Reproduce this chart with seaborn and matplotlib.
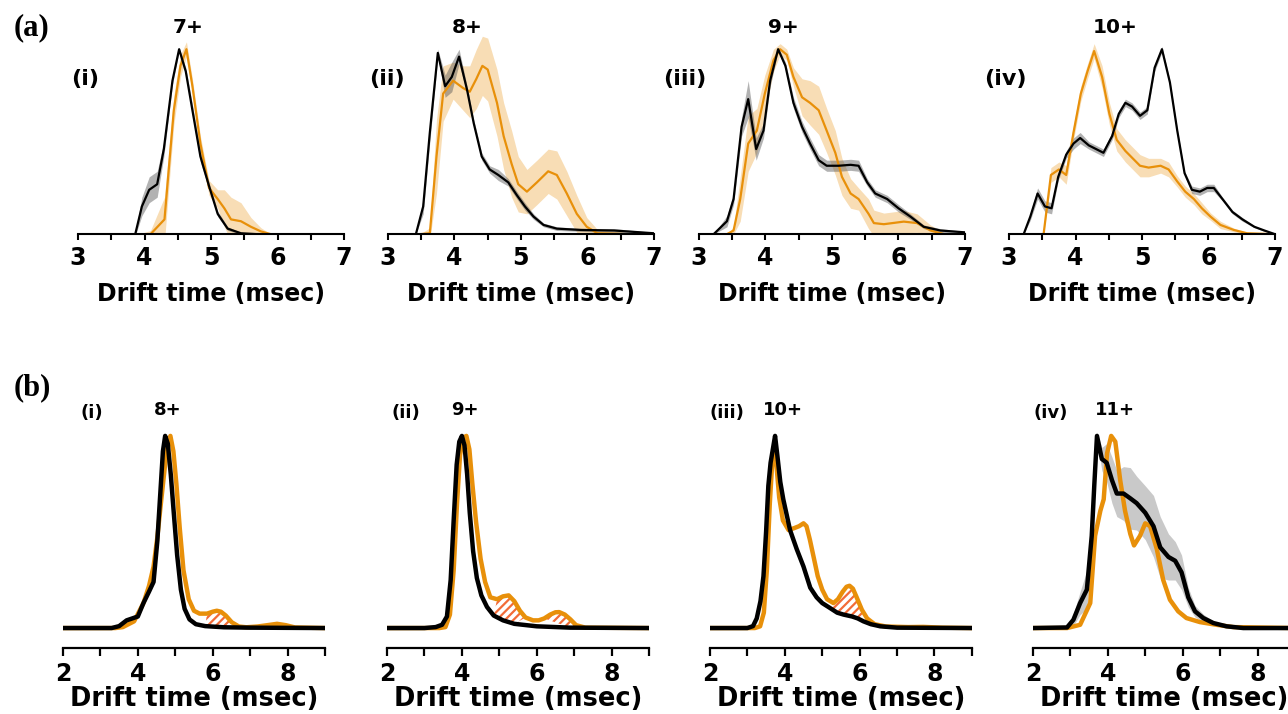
import matplotlib
matplotlib.use("Agg")
import matplotlib.pyplot as plt
import numpy as np
import seaborn as sns

# ---- (a) top row: mean traces with spread, drift time 3-7 msec ----
A1_BLK_X = [3.86, 3.96, 4.07, 4.19, 4.29, 4.42, 4.52, 4.62, 4.72, 4.84, 4.97, 5.1, 5.25, 5.45, 5.7]
A1_BLK_Y = [0, 0.15, 0.24, 0.27, 0.46, 0.83, 1.0, 0.88, 0.67, 0.42, 0.26, 0.11, 0.03, 0.005, 0]
A1_BLK_SD = [0.01, 0.05, 0.07, 0.07, 0.04, 0.02, 0.01, 0.02, 0.03, 0.03, 0.02, 0.015, 0.01, 0.005, 0]
A1_ORG_X = [3.9, 4.09, 4.3, 4.44, 4.54, 4.63, 4.72, 4.84, 4.97, 5.1, 5.2, 5.3, 5.45, 5.6, 5.75, 5.9]
A1_ORG_Y = [0, 0, 0.08, 0.67, 0.91, 1.0, 0.8, 0.49, 0.25, 0.19, 0.14, 0.08, 0.07, 0.04, 0.015, 0]
A1_ORG_SD = [0, 0.02, 0.12, 0.08, 0.06, 0.04, 0.04, 0.04, 0.04, 0.05, 0.1, 0.12, 0.1, 0.05, 0.02, 0]

A2_BLK_X = [3.42, 3.53, 3.63, 3.75, 3.86, 3.96, 4.07, 4.19, 4.29, 4.41, 4.53, 4.66, 4.81, 4.94,
            5.06, 5.19, 5.34, 5.54, 5.9, 6.4, 7.0]
A2_BLK_Y = [0, 0.15, 0.55, 0.98, 0.80, 0.85, 0.96, 0.78, 0.60, 0.42, 0.35, 0.32, 0.28, 0.21,
            0.15, 0.095, 0.05, 0.03, 0.023, 0.02, 0.005]
A2_BLK_SD = [0, 0.04, 0.05, 0.02, 0.06, 0.08, 0.04, 0.02, 0.02, 0.02, 0.02, 0.03, 0.02, 0.02,
             0.02, 0.015, 0.01, 0.01, 0.008, 0.01, 0.005]
A2_ORG_X = [3.48, 3.63, 3.73, 3.83, 3.98, 4.13, 4.23, 4.33, 4.42, 4.5, 4.64, 4.74, 4.86, 4.96,
            5.09, 5.24, 5.41, 5.54, 5.69, 5.84, 5.99, 6.15, 6.65, 7.0]
A2_ORG_Y = [0, 0.005, 0.42, 0.76, 0.83, 0.79, 0.77, 0.84, 0.91, 0.89, 0.71, 0.53, 0.38, 0.27,
            0.23, 0.28, 0.34, 0.32, 0.22, 0.11, 0.04, 0.005, 0, 0]
A2_ORG_SD = [0, 0.03, 0.2, 0.15, 0.1, 0.12, 0.14, 0.16, 0.16, 0.17, 0.18, 0.18, 0.18, 0.15,
             0.12, 0.12, 0.12, 0.13, 0.12, 0.1, 0.05, 0.02, 0.005, 0]

A3_BLK_X = [3.22, 3.42, 3.52, 3.64, 3.74, 3.86, 3.97, 4.07, 4.19, 4.3, 4.42, 4.55, 4.67, 4.8,
            4.92, 5.1, 5.28, 5.4, 5.53, 5.65, 5.83, 6.0, 6.18, 6.38, 6.63, 7.0]
A3_BLK_Y = [0, 0.07, 0.19, 0.58, 0.73, 0.46, 0.56, 0.83, 1.0, 0.91, 0.71, 0.58, 0.49, 0.40,
            0.37, 0.37, 0.375, 0.37, 0.28, 0.22, 0.19, 0.14, 0.095, 0.04, 0.02, 0.01]
A3_BLK_SD = [0, 0.03, 0.03, 0.05, 0.1, 0.06, 0.04, 0.03, 0.01, 0.02, 0.03, 0.03, 0.03, 0.03,
             0.03, 0.03, 0.03, 0.03, 0.02, 0.02, 0.02, 0.02, 0.015, 0.01, 0.01, 0.005]
A3_ORG_X = [3.42, 3.52, 3.62, 3.74, 3.87, 3.99, 4.12, 4.22, 4.32, 4.42, 4.55, 4.67, 4.8, 4.92,
            5.05, 5.15, 5.28, 5.4, 5.55, 5.63, 5.78, 6.08, 6.28, 6.48, 6.68, 7.0]
A3_ORG_Y = [0, 0.02, 0.19, 0.49, 0.56, 0.76, 0.94, 1.0, 0.97, 0.85, 0.74, 0.71, 0.67, 0.56,
            0.44, 0.31, 0.22, 0.19, 0.11, 0.06, 0.054, 0.068, 0.06, 0.02, 0, 0]
A3_ORG_SD = [0, 0.02, 0.12, 0.15, 0.12, 0.1, 0.06, 0.03, 0.03, 0.05, 0.1, 0.12, 0.13, 0.12,
             0.12, 0.1, 0.08, 0.06, 0.08, 0.07, 0.06, 0.06, 0.05, 0.03, 0.01, 0]

A4_BLK_X = [3.22, 3.32, 3.43, 3.54, 3.64, 3.74, 3.86, 3.97, 4.07, 4.2, 4.31, 4.42, 4.55, 4.65,
            4.75, 4.85, 4.97, 5.08, 5.19, 5.3, 5.42, 5.53, 5.64, 5.75, 5.87, 5.98, 6.08, 6.21,
            6.36, 6.51, 6.69, 6.84, 7.0]
A4_BLK_Y = [0, 0.095, 0.22, 0.15, 0.14, 0.31, 0.43, 0.49, 0.52, 0.48, 0.46, 0.44, 0.53, 0.65,
            0.71, 0.69, 0.64, 0.67, 0.9, 1.0, 0.82, 0.56, 0.33, 0.24, 0.23, 0.25, 0.25, 0.19,
            0.12, 0.08, 0.04, 0.02, 0]
A4_BLK_SD = [0, 0.02, 0.03, 0.03, 0.03, 0.02, 0.02, 0.03, 0.03, 0.02, 0.02, 0.02, 0.02, 0.02,
             0.02, 0.02, 0.02, 0.02, 0.02, 0.015, 0.01, 0.01, 0.01, 0.02, 0.02, 0.02, 0.02, 0.01,
             0.01, 0.01, 0.005, 0.005, 0]
A4_ORG_X = [3.52, 3.63, 3.75, 3.86, 3.97, 4.08, 4.18, 4.28, 4.4, 4.51, 4.62, 4.75, 4.86, 4.97,
            5.1, 5.28, 5.4, 5.53, 5.65, 5.78, 5.9, 6.03, 6.18, 6.38, 6.58, 7.0]
A4_ORG_Y = [0, 0.32, 0.35, 0.32, 0.55, 0.76, 0.88, 0.99, 0.85, 0.65, 0.51, 0.45, 0.41, 0.37,
            0.36, 0.37, 0.35, 0.285, 0.23, 0.19, 0.14, 0.095, 0.05, 0.023, 0.005, 0]
A4_ORG_SD = [0, 0.04, 0.04, 0.05, 0.04, 0.04, 0.04, 0.04, 0.06, 0.06, 0.06, 0.06, 0.06, 0.06,
             0.05, 0.04, 0.04, 0.03, 0.03, 0.03, 0.03, 0.02, 0.02, 0.01, 0.005, 0]

A_CHARGES = ["7+", "8+", "9+", "10+"]
A_NUMERALS = ["(i)", "(ii)", "(iii)", "(iv)"]

# ---- (b) bottom row: drift time 2-9 msec ----
B1_BLK_X = [2.0, 3.3, 3.5, 3.7, 3.85, 4.0, 4.15, 4.3, 4.42, 4.52, 4.6, 4.67, 4.73, 4.8, 4.88,
            4.96, 5.05, 5.15, 5.25, 5.38, 5.55, 5.8, 6.3, 7.0, 9.0]
B1_BLK_Y = [0, 0, 0.01, 0.04, 0.05, 0.06, 0.13, 0.19, 0.24, 0.45, 0.7, 0.92, 1.0, 0.96, 0.8,
            0.6, 0.38, 0.2, 0.1, 0.045, 0.02, 0.01, 0.004, 0.002, 0]
B1_ORG_X = [2.0, 3.4, 3.6, 3.9, 4.15, 4.3, 4.42, 4.52, 4.6, 4.7, 4.78, 4.87, 4.95, 5.03, 5.12,
            5.22, 5.36, 5.5, 5.65, 5.85, 6.0, 6.11, 6.22, 6.35, 6.51, 6.7, 6.9, 7.2, 7.5, 7.72,
            7.95, 8.2, 9.0]
B1_ORG_Y = [0, 0, 0.005, 0.035, 0.13, 0.22, 0.32, 0.47, 0.62, 0.8, 0.94, 1.0, 0.92, 0.75, 0.52,
            0.3, 0.15, 0.09, 0.075, 0.075, 0.085, 0.09, 0.085, 0.065, 0.03, 0.008, 0.004, 0.008,
            0.016, 0.022, 0.015, 0.003, 0]

B2_BLK_X = [2.0, 3.0, 3.3, 3.47, 3.6, 3.7, 3.78, 3.86, 3.93, 4.0, 4.07, 4.14, 4.21, 4.3, 4.4,
            4.52, 4.67, 4.85, 5.1, 5.4, 6.0, 6.9, 9.0]
B2_BLK_Y = [0, 0, 0.005, 0.017, 0.06, 0.25, 0.56, 0.85, 0.97, 1.0, 0.95, 0.8, 0.6, 0.4, 0.26,
            0.17, 0.11, 0.065, 0.04, 0.022, 0.009, 0.002, 0]
B2_ORG_X = [2.0, 3.4, 3.56, 3.68, 3.78, 3.87, 3.95, 4.03, 4.12, 4.2, 4.28, 4.38, 4.5, 4.62, 4.76,
            4.94, 5.1, 5.25, 5.4, 5.55, 5.7, 5.9, 6.05, 6.2, 6.36, 6.5, 6.6, 6.75, 6.9, 7.05,
            7.3, 9.0]
B2_ORG_Y = [0, 0, 0.005, 0.07, 0.3, 0.65, 0.9, 0.99, 1.0, 0.93, 0.75, 0.55, 0.36, 0.24, 0.16,
            0.15, 0.165, 0.17, 0.14, 0.09, 0.055, 0.04, 0.04, 0.05, 0.07, 0.082, 0.083, 0.07,
            0.045, 0.015, 0.002, 0]

B3_BLK_X = [2.0, 3.0, 3.15, 3.25, 3.35, 3.43, 3.5, 3.56, 3.62, 3.68, 3.74, 3.8, 3.88, 3.96,
            4.05, 4.14, 4.32, 4.5, 4.68, 4.85, 5.0, 5.21, 5.4, 5.57, 5.8, 5.95, 6.1, 6.3, 6.55,
            7.0, 9.0]
B3_BLK_Y = [0, 0, 0.01, 0.05, 0.14, 0.27, 0.5, 0.74, 0.86, 0.93, 1.0, 0.9, 0.76, 0.67, 0.59,
            0.51, 0.41, 0.32, 0.21, 0.16, 0.13, 0.104, 0.08, 0.07, 0.06, 0.05, 0.035, 0.02,
            0.009, 0.002, 0]
B3_ORG_X = [2.0, 3.2, 3.34, 3.44, 3.52, 3.6, 3.67, 3.72, 3.78, 3.85, 3.95, 4.1, 4.25, 4.38,
            4.5, 4.58, 4.67, 4.77, 4.88, 5.0, 5.13, 5.3, 5.42, 5.55, 5.65, 5.73, 5.82, 5.92,
            6.06, 6.2, 6.4, 6.7, 7.3, 7.7, 8.2, 9.0]
B3_ORG_Y = [0, 0, 0.009, 0.08, 0.3, 0.65, 0.88, 0.94, 0.84, 0.68, 0.56, 0.51, 0.52, 0.53,
            0.545, 0.53, 0.46, 0.37, 0.27, 0.2, 0.15, 0.13, 0.15, 0.19, 0.215, 0.22, 0.205,
            0.16, 0.095, 0.05, 0.02, 0.008, 0.005, 0.006, 0.002, 0]

B4_BLK_X = [2.0, 2.91, 3.08, 3.26, 3.44, 3.57, 3.64, 3.71, 3.84, 3.97, 4.11, 4.24, 4.42, 4.6,
            4.77, 5.0, 5.22, 5.4, 5.62, 5.8, 5.97, 6.15, 6.33, 6.55, 6.82, 7.17, 7.62, 9.0]
B4_BLK_Y = [0, 0.003, 0.043, 0.13, 0.2, 0.48, 0.75, 1.0, 0.88, 0.86, 0.77, 0.7, 0.7, 0.675,
            0.65, 0.6, 0.53, 0.42, 0.37, 0.35, 0.29, 0.16, 0.087, 0.052, 0.026, 0.009, 0, 0]
B4_BLK_SD = [0, 0, 0.03, 0.06, 0.1, 0.1, 0.08, 0.02, 0.06, 0.1, 0.12, 0.12, 0.14, 0.16, 0.14,
             0.14, 0.16, 0.16, 0.12, 0.1, 0.09, 0.05, 0.03, 0.02, 0.01, 0.005, 0, 0]
B4_ORG_X = [2.0, 2.91, 3.26, 3.53, 3.66, 3.8, 3.89, 3.98, 4.09, 4.2, 4.33, 4.46, 4.6, 4.7, 4.86,
            5.0, 5.13, 5.31, 5.48, 5.66, 5.88, 6.1, 6.46, 6.9, 7.35, 9.0]
B4_ORG_Y = [0, 0, 0.017, 0.13, 0.48, 0.61, 0.67, 0.91, 1.0, 0.97, 0.77, 0.61, 0.49, 0.43, 0.48,
            0.545, 0.53, 0.41, 0.25, 0.147, 0.087, 0.052, 0.031, 0.017, 0.005, 0]

B_CHARGES = ["8+", "9+", "10+", "11+"]
B_NUMERALS = ["(i)", "(ii)", "(iii)", "(iv)"]
B_HATCH = [[(5.7, 6.6)], [(4.8, 5.7), (6.1, 7.05)], [(5.2, 6.1)], []]

ORANGE = "#E8900A"
HATCH_C = "#F26B38"

sns.set_style("ticks")
plt.rcParams["font.family"] = ["DejaVu Sans"]
plt.rcParams["font.weight"] = "bold"
plt.rcParams["text.color"] = "black"
plt.rcParams["axes.labelcolor"] = "black"
plt.rcParams["xtick.color"] = "black"
plt.rcParams["hatch.linewidth"] = 1.6

fig = plt.figure(figsize=(12.88, 7.14), dpi=100)


def trace(ax, x, y, color, lw, sd=None, band=None, alpha=0.3):
    x = np.asarray(x, float)
    y = np.asarray(y, float)
    if sd is not None:
        sd = np.asarray(sd, float)
        ax.fill_between(x, y - sd, y + sd, color=band or color, alpha=alpha, lw=0, zorder=1)
    sns.lineplot(x=x, y=y, color=color, lw=lw, ax=ax, zorder=3)


def style_axis(ax, major, minor, lw, length, labelsize, pad):
    ax.set_xticks(major)
    ax.set_xticks(minor, minor=True)
    ax.set_yticks([])
    sns.despine(ax=ax, left=True)
    ax.spines["bottom"].set_linewidth(lw)
    ax.spines["bottom"].set_color("black")
    ax.spines["bottom"].set_zorder(4)
    ax.tick_params(axis="x", which="both", length=length, width=lw, color="black",
                   labelcolor="black", direction="out", labelsize=labelsize, pad=pad)
    for t in ax.get_xticklabels():
        t.set_fontweight("bold")
    ax.patch.set_alpha(0)


# ---- top row ----
top = [
    (A1_BLK_X, A1_BLK_Y, A1_BLK_SD, A1_ORG_X, A1_ORG_Y, A1_ORG_SD),
    (A2_BLK_X, A2_BLK_Y, A2_BLK_SD, A2_ORG_X, A2_ORG_Y, A2_ORG_SD),
    (A3_BLK_X, A3_BLK_Y, A3_BLK_SD, A3_ORG_X, A3_ORG_Y, A3_ORG_SD),
    (A4_BLK_X, A4_BLK_Y, A4_BLK_SD, A4_ORG_X, A4_ORG_Y, A4_ORG_SD),
]
top_left = [0.0606, 0.3012, 0.5427, 0.7834]
top_title_x = [4.65, 4.19, 4.27, 4.6]
top_num_x = [3.11, 2.98, 2.79, 2.94]
for i, (bx, by, bs, ox, oy, osd) in enumerate(top):
    ax = fig.add_axes([top_left[i], 0.672, 0.2065, 0.285])
    trace(ax, ox, oy, ORANGE, 1.6, osd)
    trace(ax, bx, by, "black", 1.6, bs, band="#555555", alpha=0.45)
    ax.set_xlim(3, 7)
    ax.set_ylim(0, 1.1)
    style_axis(ax, [3, 4, 5, 6, 7], [3.5, 4.5, 5.5, 6.5], 1.5, 4.2, 17, 4)
    ax.set_xlabel("Drift time (msec)", fontsize=17, fontweight="bold", labelpad=9)
    ax.text(top_title_x[i], 1.12, A_CHARGES[i], ha="center", va="center",
            fontsize=14.5, fontweight="bold", clip_on=False)
    ax.text(top_num_x[i], 0.84, A_NUMERALS[i], ha="center", va="center",
            fontsize=16, fontweight="bold", clip_on=False)

# ---- bottom row ----
bottom = [
    (B1_BLK_X, B1_BLK_Y, None, B1_ORG_X, B1_ORG_Y),
    (B2_BLK_X, B2_BLK_Y, None, B2_ORG_X, B2_ORG_Y),
    (B3_BLK_X, B3_BLK_Y, None, B3_ORG_X, B3_ORG_Y),
    (B4_BLK_X, B4_BLK_Y, B4_BLK_SD, B4_ORG_X, B4_ORG_Y),
]
bot_left = [0.0489, 0.3005, 0.5512, 0.802]
bot_title_x = [4.81, 4.09, 3.96, 4.19]
bot_num_x = [2.78, 2.51, 2.45, 2.48]
for i, (bx, by, bs, ox, oy) in enumerate(bottom):
    ax = fig.add_axes([bot_left[i], 0.0924, 0.2034, 0.324])
    bx_a, by_a = np.asarray(bx, float), np.asarray(by, float)
    ox_a, oy_a = np.asarray(ox, float), np.asarray(oy, float)
    for lo, hi in B_HATCH[i]:
        mo = (ox_a >= lo) & (ox_a <= hi)
        mb = (bx_a >= lo) & (bx_a <= hi)
        px = np.concatenate([ox_a[mo], bx_a[mb][::-1]])
        py = np.concatenate([oy_a[mo], by_a[mb][::-1]])
        ax.fill(px, py, facecolor="none", edgecolor=HATCH_C, hatch="////", lw=0, zorder=1)
    trace(ax, ox, oy, ORANGE, 3.2)
    if bs is not None:
        trace(ax, bx, by, "black", 3.2, bs, band="#888888", alpha=0.45)
    else:
        trace(ax, bx, by, "black", 3.2)
    ax.set_xlim(2, 9)
    ax.set_ylim(-0.104, 1.1)
    style_axis(ax, [2, 4, 6, 8], [3, 5, 7, 9], 1.6, 6, 17, 4)
    ax.set_xlabel("Drift time (msec)", fontsize=18.5, fontweight="bold", labelpad=0)
    ax.text(bot_title_x[i], 1.135, B_CHARGES[i], ha="center", va="center",
            fontsize=13, fontweight="bold", clip_on=False)
    ax.text(bot_num_x[i], 1.12, B_NUMERALS[i], ha="center", va="center",
            fontsize=13, fontweight="bold", clip_on=False)

fig.text(32 / 1288, 1 - 27.5 / 714, "(a)", ha="center", va="center", fontsize=22,
         fontweight="bold", family=["Liberation Serif", "DejaVu Serif"])
fig.text(32 / 1288, 1 - 388 / 714, "(b)", ha="center", va="center", fontsize=22,
         fontweight="bold", family=["Liberation Serif", "DejaVu Serif"])

fig.savefig("out.png", dpi=100)
